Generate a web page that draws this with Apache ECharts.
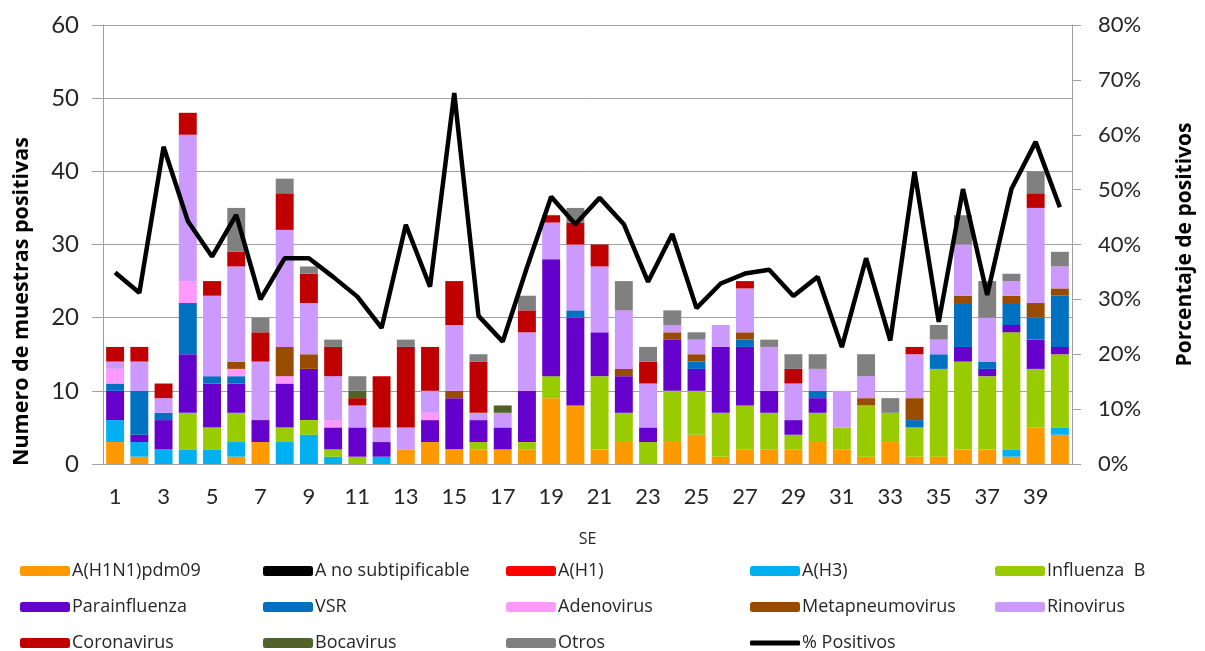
<!DOCTYPE html>
<html>
<head>
<meta charset="utf-8">
<script src="https://cdn.jsdelivr.net/npm/echarts@6/dist/echarts.min.js"></script>
<style>html,body{margin:0;padding:0;background:#fff;}#c{width:1205px;height:651px;}</style>
</head>
<body>
<div id="c"></div>
<script>
const weeks = Array.from({length:40},(_,i)=>String(i+1));
const h1n1   = [3,1,0,0,0,1,3,0,0,0, 0,0,2,3,2,2,2,2,9,8, 2,3,0,3,4,1,2,2,2,3, 2,1,3,1,1,2,2,1,5,4];
const aNoSub = [0,0,0,0,0,0,0,0,0,0, 0,0,0,0,0,0,0,0,0,0, 0,0,0,0,0,0,0,0,0,0, 0,0,0,0,0,0,0,0,0,0];
const h1     = [0,0,0,0,0,0,0,0,0,0, 0,0,0,0,0,0,0,0,0,0, 0,0,0,0,0,0,0,0,0,0, 0,0,0,0,0,0,0,0,0,0];
const h3     = [3,2,2,2,2,2,0,3,4,1, 0,1,0,0,0,0,0,0,0,0, 0,0,0,0,0,0,0,0,0,0, 0,0,0,0,0,0,0,1,0,1];
const infB   = [0,0,0,5,3,4,0,2,2,1, 1,0,0,0,0,1,0,1,3,0, 10,4,3,7,6,6,6,5,2,4, 3,7,4,4,12,12,10,16,8,10];
const para   = [4,1,4,8,6,4,3,6,7,3, 4,2,0,3,7,3,3,7,16,12, 6,5,2,7,3,9,8,3,2,2, 0,0,0,0,0,2,1,1,4,1];
const vsr    = [1,6,1,7,1,1,0,0,0,0, 0,0,0,0,0,0,0,0,0,1, 0,0,0,0,1,0,1,0,0,1, 0,0,0,1,2,6,1,3,3,7];
const adeno  = [2,0,0,3,0,1,0,1,0,1, 0,0,0,1,0,0,0,0,0,0, 0,0,0,0,0,0,0,0,0,0, 0,0,0,0,0,0,0,0,0,0];
const meta   = [0,0,0,0,0,1,0,4,2,0, 0,0,0,0,1,0,0,0,0,0, 0,1,0,1,1,0,1,0,0,0, 0,1,0,3,0,1,0,1,2,1];
const rino   = [1,4,2,20,11,13,8,16,7,6, 3,2,3,3,9,1,2,8,5,9, 9,8,6,1,2,3,6,6,5,3, 5,3,0,6,2,7,6,2,13,3];
const corona = [2,2,2,3,2,2,4,5,4,4, 1,7,11,6,6,7,0,3,1,3, 3,0,3,0,0,0,1,0,2,0, 0,0,0,1,0,0,0,0,2,0];
const boca   = [0,0,0,0,0,0,0,0,0,0, 1,0,0,0,0,0,1,0,0,0, 0,0,0,0,0,0,0,0,0,0, 0,0,0,0,0,0,0,0,0,0];
const otros  = [0,0,0,0,0,6,2,2,1,1, 2,0,1,0,0,1,0,2,0,2, 0,4,2,2,1,0,0,1,2,2, 0,3,2,0,2,4,5,1,3,2];
const pctPos = [34.9,31.2,57.8,44.3,37.8,45.4,30,37.5,37.5,34.1, 30.5,24.8,43.6,32.3,67.6,27,22.3,35.8,48.7,43.7,
                48.5,43.7,33.2,41.9,28.4,32.9,34.7,35.4,30.6,34.1, 21.3,37.5,22.5,53.3,25.9,50.1,30.8,50.1,58.7,46.8];

const barDefs = [
  ['A(H1N1)pdm09', h1n1, '#FF9900'],
  ['A no subtipificable', aNoSub, '#000000'],
  ['A(H1)', h1, '#FF0000'],
  ['A(H3)', h3, '#00B0F0'],
  ['Influenza  B', infB, '#99CC00'],
  ['Parainfluenza', para, '#6600CC'],
  ['VSR', vsr, '#0070C0'],
  ['Adenovirus', adeno, '#FF99FF'],
  ['Metapneumovirus', meta, '#994C00'],
  ['Rinovirus', rino, '#CC99FF'],
  ['Coronavirus', corona, '#C00000'],
  ['Bocavirus', boca, '#4F6228'],
  ['Otros', otros, '#808080']
];

const font = 'Lato, sans-serif';
const lfont = '"Open Sans", sans-serif';
const series = barDefs.map(([name, data, color]) => ({
  name, type: 'bar', stack: 'total', data, barCategoryGap: '26%',
  itemStyle: { color }, emphasis: { disabled: true }
}));
series.push({
  name: '% Positivos', type: 'line', yAxisIndex: 1, data: pctPos,
  symbol: 'none', lineStyle: { color: '#000', width: 4.5 }, itemStyle: { color: '#000' }, z: 10
});

const rows = [
  ['A(H1N1)pdm09','A no subtipificable','A(H1)','A(H3)','Influenza  B'],
  ['Parainfluenza','VSR','Adenovirus','Metapneumovirus','Rinovirus'],
  ['Coronavirus','Bocavirus','Otros','% Positivos']
];
const colX = [15, 258, 501, 745, 990];
const rowY = [557, 593, 629];
const legends = [];
rows.forEach((r, ri) => r.forEach((name, ci) => {
  const isLine = name === '% Positivos';
  legends.push({
    data: [isLine ? { name, icon: 'roundRect', itemStyle: { color: '#000' } } : name],
    left: colX[ci], top: rowY[ri], itemWidth: 50, itemHeight: isLine ? 5 : 10, itemGap: 0,
    textStyle: { fontFamily: lfont, fontSize: 18, color: '#262626', padding: [0,0,0,-3] }
  });
}));

const chart = echarts.init(document.getElementById('c'));
chart.setOption({
  animation: false,
  grid: { left: 103, right: 133, top: 25, bottom: 187 },
  legend: legends,
  xAxis: {
    type: 'category', data: weeks,
    axisLine: { lineStyle: { color: '#A0A0A0' } },
    axisTick: { interval: 0, length: 9, lineStyle: { color: '#A0A0A0' } },
    axisLabel: { interval: 1, fontFamily: font, fontSize: 22, color: '#262626', margin: 22 },
    name: 'SE', nameLocation: 'middle', nameGap: 67,
    nameTextStyle: { fontFamily: lfont, fontSize: 16, color: '#262626' }
  },
  yAxis: [
    { type: 'value', min: 0, max: 60, interval: 10,
      axisLine: { show: true, lineStyle: { color: '#A0A0A0' } },
      axisTick: { show: true, length: 11, lineStyle: { color: '#A0A0A0' } },
      splitLine: { lineStyle: { color: '#A0A0A0' } },
      axisLabel: { fontFamily: font, fontSize: 24, color: '#262626', margin: 24 } },
    { type: 'value', min: 0, max: 80, interval: 10,
      axisLine: { show: true, lineStyle: { color: '#A0A0A0' } },
      axisTick: { show: true, length: 9, lineStyle: { color: '#A0A0A0' } },
      splitLine: { show: false },
      axisLabel: { formatter: '{value}%', fontFamily: font, fontSize: 22, color: '#262626', margin: 26 },
      name: 'Porcentaje de positivos', nameLocation: 'middle', nameGap: 103, nameRotate: 90,
      nameTextStyle: { fontFamily: lfont, fontSize: 21, fontWeight: 'bold', color: '#000' } }
  ],
  graphic: [{
    type: 'text', x: 11, y: 466, rotation: Math.PI / 2,
    style: { text: 'Numero de muestras positivas', fontFamily: lfont, fontSize: 21.5, fontWeight: 'bold', fill: '#000' }
  }],
  series
});
</script>
</body>
</html>
